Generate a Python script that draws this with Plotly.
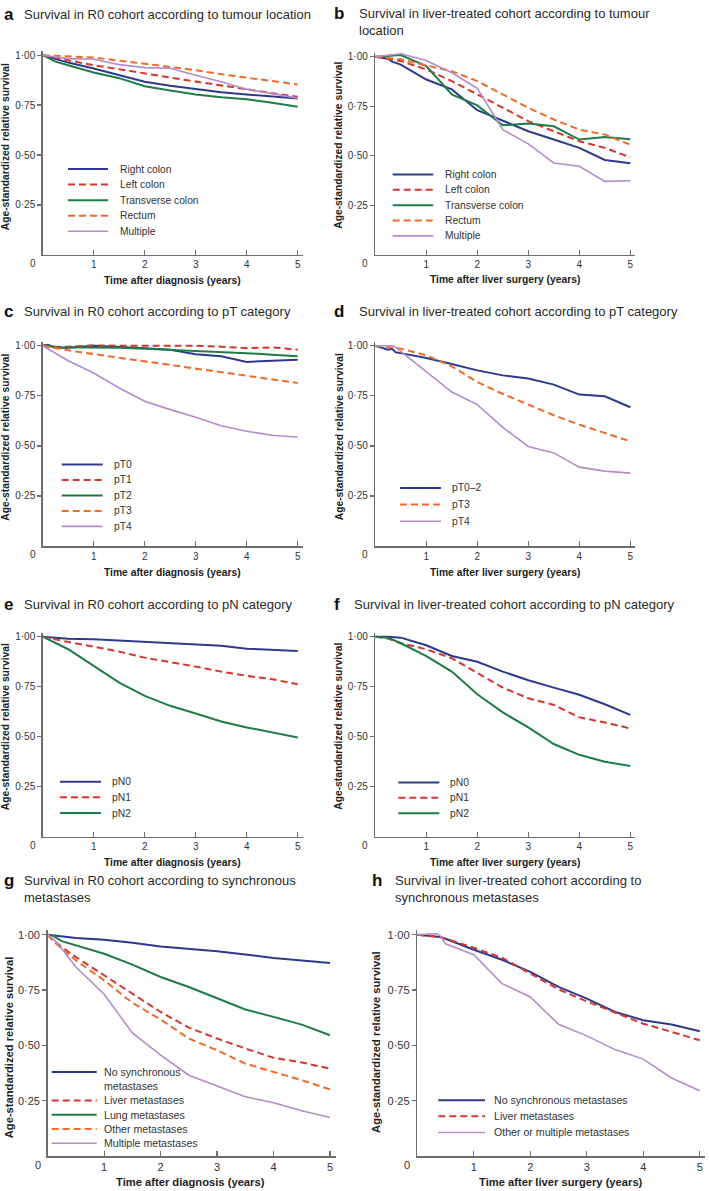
import plotly.graph_objects as go

# ---------------- data ----------------
X_TICKS = [1, 2, 3, 4, 5]
Y_TICKS = [0.25, 0.50, 0.75, 1.00]
Y_TICK_TEXT = ["0·25", "0·50", "0·75", "1·00"]

# a: R0 cohort, tumour location
TIME_A = [0, 0.25, 0.5, 1, 1.5, 2, 2.5, 3, 3.5, 4, 4.5, 5]
A_RIGHT = [1.0, 0.982, 0.963, 0.933, 0.900, 0.867, 0.847, 0.830, 0.815, 0.803, 0.793, 0.783]
A_LEFT = [1.0, 0.988, 0.975, 0.950, 0.930, 0.908, 0.888, 0.868, 0.848, 0.828, 0.810, 0.792]
A_TRANSVERSE = [1.0, 0.968, 0.950, 0.913, 0.885, 0.845, 0.823, 0.803, 0.790, 0.780, 0.762, 0.742]
A_RECTUM = [1.0, 0.997, 0.993, 0.988, 0.973, 0.958, 0.942, 0.925, 0.905, 0.887, 0.870, 0.853]
A_MULTIPLE = [1.0, 0.990, 0.983, 0.980, 0.953, 0.938, 0.935, 0.900, 0.867, 0.830, 0.808, 0.785]

# b: liver-treated cohort, tumour location
TIME_B = [0, 0.25, 0.33, 0.5, 1, 1.5, 2, 2.5, 3, 3.5, 4, 4.5, 5]
B_RIGHT = [1.0, 0.990, 0.975, 0.960, 0.885, 0.835, 0.730, 0.675, 0.624, 0.582, 0.540, 0.479, 0.462]
B_LEFT = [1.0, 0.990, 0.985, 0.978, 0.936, 0.877, 0.810, 0.742, 0.675, 0.624, 0.573, 0.540, 0.492]
B_TRANSVERSE = [1.0, 1.003, 1.005, 1.008, 0.953, 0.810, 0.754, 0.654, 0.663, 0.649, 0.582, 0.595, 0.583]
B_RECTUM = [1.0, 0.995, 0.993, 0.987, 0.956, 0.927, 0.877, 0.810, 0.742, 0.683, 0.632, 0.607, 0.556]
B_MULTIPLE = [1.0, 1.005, 1.010, 1.015, 0.981, 0.919, 0.840, 0.632, 0.560, 0.464, 0.447, 0.371, 0.374]

# c: R0 cohort, pT category
TIME_C = [0, 0.1, 0.25, 0.5, 1, 1.5, 2, 2.5, 3, 3.5, 4, 4.5, 5]
C_PT0 = [1.0, 1.005, 0.990, 0.990, 1.000, 0.995, 0.988, 0.980, 0.958, 0.947, 0.919, 0.925, 0.930]
C_PT1 = [1.0, 0.998, 0.995, 0.995, 1.002, 1.000, 1.000, 1.000, 1.000, 0.995, 0.988, 0.992, 0.980]
C_PT2 = [1.0, 1.000, 0.992, 0.992, 0.993, 0.990, 0.985, 0.980, 0.975, 0.970, 0.963, 0.955, 0.947]
C_PT3 = [1.0, 0.995, 0.988, 0.977, 0.958, 0.940, 0.922, 0.903, 0.884, 0.865, 0.847, 0.830, 0.814]
C_PT4 = [1.0, 0.985, 0.963, 0.925, 0.864, 0.789, 0.723, 0.681, 0.643, 0.601, 0.573, 0.553, 0.543]

# d: liver-treated cohort, pT category
TIME_D = [0, 0.17, 0.25, 0.33, 0.4, 0.5, 1, 1.5, 2, 2.5, 3, 3.5, 4, 4.5, 5]
D_PT02 = [1.0, 0.988, 0.980, 0.985, 0.967, 0.963, 0.939, 0.909, 0.877, 0.852, 0.836, 0.806, 0.756, 0.748, 0.693]
D_PT3 = [1.0, 0.995, 0.992, 0.990, 0.988, 0.985, 0.952, 0.897, 0.819, 0.759, 0.706, 0.653, 0.606, 0.565, 0.523]
D_PT4 = [1.0, 0.998, 1.000, 1.000, 0.993, 0.972, 0.872, 0.769, 0.706, 0.593, 0.497, 0.465, 0.394, 0.374, 0.364]

# e: R0 cohort, pN category
TIME_E = [0, 0.25, 0.5, 1, 1.5, 2, 2.5, 3, 3.5, 4, 4.5, 5]
E_PN0 = [1.0, 0.995, 0.990, 0.987, 0.981, 0.975, 0.969, 0.962, 0.954, 0.940, 0.934, 0.928]
E_PN1 = [1.0, 0.985, 0.973, 0.950, 0.925, 0.895, 0.874, 0.850, 0.825, 0.804, 0.787, 0.762]
E_PN2 = [1.0, 0.970, 0.937, 0.854, 0.770, 0.704, 0.654, 0.616, 0.576, 0.546, 0.521, 0.496]

# f: liver-treated cohort, pN category
TIME_F = [0, 0.25, 0.5, 1, 1.5, 2, 2.5, 3, 3.5, 4, 4.5, 5]
F_PN0 = [1.0, 1.000, 0.995, 0.957, 0.903, 0.874, 0.825, 0.782, 0.745, 0.709, 0.662, 0.609]
F_PN1 = [1.0, 0.990, 0.967, 0.937, 0.892, 0.817, 0.745, 0.692, 0.659, 0.596, 0.571, 0.541]
F_PN2 = [1.0, 0.995, 0.967, 0.903, 0.825, 0.712, 0.621, 0.546, 0.463, 0.409, 0.374, 0.353]

# g: R0 cohort, synchronous metastases
TIME_G = [0, 0.1, 0.25, 0.5, 1, 1.5, 2, 2.5, 3, 3.5, 4, 4.5, 5]
G_NONE = [1.0, 0.997, 0.993, 0.985, 0.977, 0.964, 0.947, 0.937, 0.925, 0.911, 0.895, 0.884, 0.872]
G_LIVER = [1.0, 0.975, 0.944, 0.899, 0.817, 0.734, 0.651, 0.580, 0.531, 0.486, 0.444, 0.423, 0.395]
G_LUNG = [1.0, 0.995, 0.971, 0.952, 0.914, 0.865, 0.809, 0.764, 0.714, 0.662, 0.629, 0.594, 0.546]
G_OTHER = [1.0, 0.970, 0.937, 0.884, 0.794, 0.692, 0.617, 0.531, 0.478, 0.418, 0.380, 0.343, 0.301]
G_MULTIPLE = [1.0, 0.980, 0.937, 0.854, 0.731, 0.556, 0.456, 0.365, 0.316, 0.268, 0.241, 0.205, 0.174]

# h: liver-treated cohort, synchronous metastases
TIME_H = [0, 0.25, 0.33, 0.4, 0.5, 1, 1.5, 2, 2.5, 3, 3.5, 4, 4.5, 5]
H_NONE = [1.0, 0.995, 0.993, 0.990, 0.982, 0.932, 0.887, 0.832, 0.764, 0.711, 0.651, 0.614, 0.594, 0.564]
H_LIVER = [1.0, 0.995, 0.993, 0.990, 0.982, 0.941, 0.896, 0.824, 0.753, 0.699, 0.647, 0.598, 0.561, 0.523]
H_OTHER = [1.0, 1.003, 1.005, 0.997, 0.959, 0.910, 0.779, 0.719, 0.595, 0.543, 0.481, 0.438, 0.353, 0.295]

TITLES = {
    "a": "Survival in R0 cohort according to tumour location",
    "b": "Survival in liver-treated cohort according to tumour<br>location",
    "c": "Survival in R0 cohort according to pT category",
    "d": "Survival in liver-treated cohort according to pT category",
    "e": "Survival in R0 cohort according to pN category",
    "f": "Survival in liver-treated cohort according to pN category",
    "g": "Survival in R0 cohort according to synchronous<br>metastases",
    "h": "Survival in liver-treated cohort according to<br>synchronous metastases",
}
Y_TITLE = "Age-standardized relative survival"
X_TITLE_DX = "Time after diagnosis (years)"
X_TITLE_LS = "Time after liver surgery (years)"

# ---------------- styles ----------------
W, H = 709, 1191
FONT = "Liberation Sans, Arial, Helvetica, sans-serif"
AXIS_COLOR = "#6e6e6e"
TEXT_COLOR = "#333333"
STYLE = {
    "blue": dict(color="#2c3a8e", width=2, dash="solid"),
    "red": dict(color="#d4372f", width=2, dash="7px,4px"),
    "green": dict(color="#1f7c46", width=2, dash="solid"),
    "orange": dict(color="#ef6b2b", width=2, dash="7px,4px"),
    "purple": dict(color="#b68bcb", width=1.6, dash="solid"),
}
XMAX, YMAX = 5.1, 1.02

PANELS = [
    dict(key="a", xt=X_TITLE_DX,
         series=[("Right colon", TIME_A, A_RIGHT, "blue"), ("Left colon", TIME_A, A_LEFT, "red"),
                 ("Transverse colon", TIME_A, A_TRANSVERSE, "green"), ("Rectum", TIME_A, A_RECTUM, "orange"),
                 ("Multiple", TIME_A, A_MULTIPLE, "purple")],
         g=dict(x0=42.7, xs=51.0, y0=253.3, ys=200.0, lx=8.5, tx=21.7, ty=12.5, ytx=5.5, yty=145,
                xty=279, leg=(68, 108, 117.7, 167.3, 15.6), fs=10, axfs=10.3, legfs=10.3)),
    dict(key="b", xt=X_TITLE_LS,
         series=[("Right colon", TIME_B, B_RIGHT, "blue"), ("Left colon", TIME_B, B_LEFT, "red"),
                 ("Transverse colon", TIME_B, B_TRANSVERSE, "green"), ("Rectum", TIME_B, B_RECTUM, "orange"),
                 ("Multiple", TIME_B, B_MULTIPLE, "purple")],
         g=dict(x0=375.3, xs=51.0, y0=253.3, ys=198.5, lx=339, tx=357, ty=11.7, ytx=339, yty=144,
                xty=278, leg=(392.7, 433.3, 442.7, 172.7, 15.4), fs=10, axfs=10.3, legfs=10.3)),
    dict(key="c", xt=X_TITLE_DX,
         series=[("pT0", TIME_C, C_PT0, "blue"), ("pT1", TIME_C, C_PT1, "red"), ("pT2", TIME_C, C_PT2, "green"),
                 ("pT3", TIME_C, C_PT3, "orange"), ("pT4", TIME_C, C_PT4, "purple")],
         g=dict(x0=42.7, xs=51.0, y0=545.0, ys=200.7, lx=8.5, tx=21.7, ty=310, ytx=5.5, yty=436,
                xty=571, leg=(61.7, 102.7, 111.7, 463.3, 15.5), fs=10, axfs=10.3, legfs=10.3)),
    dict(key="d", xt=X_TITLE_LS,
         series=[("pT0–2", TIME_D, D_PT02, "blue"), ("pT3", TIME_D, D_PT3, "orange"), ("pT4", TIME_D, D_PT4, "purple")],
         g=dict(x0=375.3, xs=51.0, y0=545.0, ys=200.7, lx=339, tx=357, ty=310, ytx=339, yty=436,
                xty=571, leg=(400, 441, 450, 486.7, 16.7), fs=10, axfs=10.3, legfs=10.3)),
    dict(key="e", xt=X_TITLE_DX,
         series=[("pN0", TIME_E, E_PN0, "blue"), ("pN1", TIME_E, E_PN1, "red"), ("pN2", TIME_E, E_PN2, "green")],
         g=dict(x0=42.7, xs=51.0, y0=836.0, ys=200.3, lx=8.0, tx=21.7, ty=603.3, ytx=5.5, yty=726,
                xty=861.7, leg=(60, 101, 110, 781, 15.7), fs=10, axfs=10.3, legfs=10.3)),
    dict(key="f", xt=X_TITLE_LS,
         series=[("pN0", TIME_F, F_PN0, "blue"), ("pN1", TIME_F, F_PN1, "red"), ("pN2", TIME_F, F_PN2, "green")],
         g=dict(x0=375.3, xs=51.0, y0=836.0, ys=200.3, lx=337, tx=352, ty=603.3, ytx=339, yty=726,
                xty=861.7, leg=(398.3, 439.3, 447.7, 781.7, 15.5), fs=10, axfs=10.3, legfs=10.3)),
    dict(key="g", xt=X_TITLE_DX,
         series=[("No synchronous<br>metastases", TIME_G, G_NONE, "blue"), ("Liver metastases", TIME_G, G_LIVER, "red"),
                 ("Lung metastases", TIME_G, G_LUNG, "green"), ("Other metastases", TIME_G, G_OTHER, "orange"),
                 ("Multiple metastases", TIME_G, G_MULTIPLE, "purple")],
         g=dict(x0=47.7, xs=56.46, y0=1156.0, ys=221.7, lx=8.5, tx=22.3, ty=880, ytx=9, yty=1047,
                xty=1182, leg=(51.7, 96.7, 101.7, 1071.7, 14.3), fs=11, axfs=11.2, legfs=10.6)),
    dict(key="h", xt=X_TITLE_LS,
         series=[("No synchronous metastases", TIME_H, H_NONE, "blue"), ("Liver metastases", TIME_H, H_LIVER, "red"),
                 ("Other or multiple metastases", TIME_H, H_OTHER, "purple")],
         g=dict(x0=417.3, xs=56.5, y0=1156.0, ys=221.7, lx=376.7, tx=393, ty=880, ytx=376.7, yty=1042,
                xty=1182, leg=(438.3, 485, 492.3, 1100, 16.2), fs=11, axfs=11.2, legfs=10.6)),
]


def px(p):
    return p / W


def py(p):
    return 1 - p / H


fig = go.Figure()
layout = dict(width=W, height=H, margin=dict(l=0, r=0, t=0, b=0),
              paper_bgcolor="white", plot_bgcolor="white", showlegend=False,
              font=dict(family=FONT, color=TEXT_COLOR))
annotations = []
shapes = []

for i, p in enumerate(PANELS):
    n = i + 1
    sfx = "" if n == 1 else str(n)
    xa, ya = "x" + sfx, "y" + sfx
    g = p["g"]
    for label, t, v, sk in p["series"]:
        fig.add_trace(go.Scatter(x=t, y=v, mode="lines", line=STYLE[sk], name=label.replace("<br>", " "),
                                 xaxis=xa, yaxis=ya, hoverinfo="skip"))

    xdom = [px(g["x0"]), px(g["x0"] + XMAX * g["xs"])]
    ydom = [py(g["y0"]), py(g["y0"] - YMAX * g["ys"])]
    layout["xaxis" + sfx] = dict(
        domain=xdom, range=[0, XMAX], anchor=ya, showgrid=False, zeroline=False,
        showline=True, linecolor=AXIS_COLOR, linewidth=1.5,
        ticks="inside", ticklen=5, tickwidth=1.3, tickcolor=AXIS_COLOR,
        tickvals=X_TICKS, ticktext=[str(v) for v in X_TICKS],
        tickfont=dict(size=g["fs"], color=TEXT_COLOR, family=FONT), fixedrange=True)
    layout["yaxis" + sfx] = dict(
        domain=ydom, range=[0, YMAX], anchor=xa, showgrid=False, zeroline=False,
        showline=True, linecolor=AXIS_COLOR, linewidth=1.5,
        ticks="outside", ticklen=4, tickwidth=1.3, tickcolor=AXIS_COLOR,
        tickvals=Y_TICKS, ticktext=Y_TICK_TEXT,
        tickfont=dict(size=g["fs"], color=TEXT_COLOR, family=FONT), fixedrange=True)

    # origin label "0"
    annotations.append(dict(x=px(g["x0"] - 10), y=py(g["y0"] + 8.7), xref="paper", yref="paper",
                            text="0", showarrow=False, xanchor="center", yanchor="middle",
                            font=dict(size=g["fs"], color=TEXT_COLOR)))
    # panel letter
    annotations.append(dict(x=px(g["lx"]), y=py(g["ty"]), xref="paper", yref="paper",
                            text="<b>%s</b>" % p["key"], showarrow=False, xanchor="center", yanchor="middle",
                            font=dict(size=17, color="#111111")))
    # panel title
    title = TITLES[p["key"]]
    nlines = title.count("<br>") + 1
    tcenter = g["ty"] + (nlines - 1) * 1.3 * 13 / 2
    annotations.append(dict(x=px(g["tx"]), y=py(tcenter), xref="paper", yref="paper",
                            text=title, showarrow=False, xanchor="left", yanchor="middle", align="left",
                            font=dict(size=13, color="#2a2a2a")))
    # y-axis title
    annotations.append(dict(x=px(g["ytx"]), y=py(g["yty"]), xref="paper", yref="paper",
                            text="<b>%s</b>" % Y_TITLE, showarrow=False, textangle=-90,
                            xanchor="center", yanchor="middle",
                            font=dict(size=g["axfs"], color="#222222")))
    # x-axis title
    annotations.append(dict(x=px(g["x0"] + 2.5 * g["xs"] + 2), y=py(g["xty"]), xref="paper", yref="paper",
                            text="<b>%s</b>" % p["xt"], showarrow=False, xanchor="center", yanchor="middle",
                            font=dict(size=g["axfs"], color="#222222")))
    # legend
    lx0, lx1, ltx, ly, lstep = g["leg"]
    row = ly
    for label, t, v, sk in p["series"]:
        st = STYLE[sk]
        shapes.append(dict(type="line", xref="paper", yref="paper", x0=px(lx0), x1=px(lx1),
                           y0=py(row), y1=py(row), line=dict(color=st["color"], width=st["width"], dash=st["dash"])))
        nl = label.count("<br>") + 1
        annotations.append(dict(x=px(ltx), y=py(row + (nl - 1) * 1.3 * g["legfs"] / 2), xref="paper", yref="paper",
                                text=label, showarrow=False, xanchor="left", yanchor="middle", align="left",
                                font=dict(size=g["legfs"], color=TEXT_COLOR)))
        row += lstep * nl

layout["annotations"] = annotations
layout["shapes"] = shapes
fig.update_layout(**layout)
fig.write_html("out.html",
               config={"displayModeBar": False, "staticPlot": True},
               post_script="document.body.style.margin='0';document.body.style.overflow='hidden';")
